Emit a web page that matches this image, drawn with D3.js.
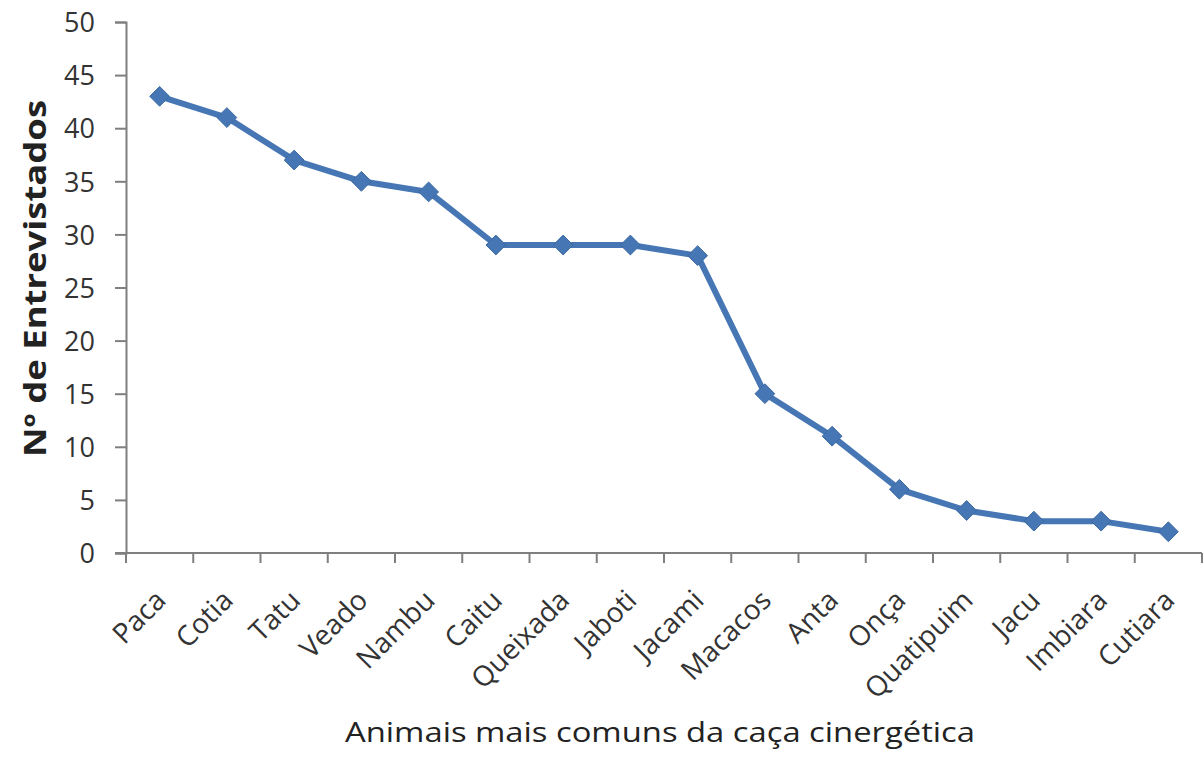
<!DOCTYPE html>
<html>
<head>
<meta charset="utf-8">
<script src="https://cdn.jsdelivr.net/npm/d3@7"></script>
<style>
  html, body { margin: 0; padding: 0; background: #fff; }
  svg { display: block; }
</style>
</head>
<body>
<svg id="chart" width="1204" height="758"></svg>
<script>
// Animals and number of interviewees citing each one
const animals = ["Paca", "Cotia", "Tatu", "Veado", "Nambu", "Caitu", "Queixada", "Jaboti",
                 "Jacami", "Macacos", "Anta", "Onça", "Quatipuim", "Jacu", "Imbiara", "Cutiara"];
const interviewees = [43, 41, 37, 35, 34, 29, 29, 29, 28, 15, 11, 6, 4, 3, 3, 2];
const yTicks = [0, 5, 10, 15, 20, 25, 30, 35, 40, 45, 50];

const svg = d3.select("#chart");
const plotLeft = 126, plotRight = 1202, plotTop = 22, plotBottom = 553;

const x = d3.scaleBand().domain(animals).range([plotLeft, plotRight]).padding(0);
const y = d3.scaleLinear().domain([0, 50]).range([plotBottom, plotTop]);

const axisColor = "#7f7f7f";
const textColor = "#333333";
const font = "'Open Sans', 'DejaVu Sans', sans-serif";

// Y axis
const yAxis = svg.append("g")
  .attr("transform", `translate(${plotLeft},0)`)
  .call(d3.axisLeft(y).tickValues(yTicks).tickSize(11).tickPadding(20).tickFormat(d3.format("d")));
yAxis.select(".domain").attr("stroke", axisColor).attr("stroke-width", 2);
yAxis.selectAll(".tick line").attr("stroke", axisColor).attr("stroke-width", 2);
yAxis.selectAll(".tick text")
  .attr("fill", textColor)
  .attr("dy", "0.36em")
  .style("font-family", font)
  .style("font-size", "27px");

// X axis: ticks on band boundaries
const xAxisG = svg.append("g");
xAxisG.append("line")
  .attr("x1", plotLeft - 11).attr("x2", plotRight)
  .attr("y1", plotBottom).attr("y2", plotBottom)
  .attr("stroke", axisColor).attr("stroke-width", 2);
const boundaries = animals.map(a => x(a)).concat([plotRight]);
xAxisG.selectAll("line.tick")
  .data(boundaries)
  .join("line")
  .attr("class", "tick")
  .attr("x1", d => d).attr("x2", d => d)
  .attr("y1", plotBottom).attr("y2", plotBottom + 10)
  .attr("stroke", axisColor).attr("stroke-width", 2);

// Category labels rotated 45°
xAxisG.selectAll("text.cat")
  .data(animals)
  .join("text")
  .attr("class", "cat")
  .attr("transform", d => `translate(${x(d) + x.bandwidth() / 2 + 8},${plotBottom + 49}) rotate(-45)`)
  .attr("text-anchor", "end")
  .attr("fill", textColor)
  .style("font-family", font)
  .style("font-size", "28px")
  .text(d => d);

// Line series
const data = animals.map((a, i) => ({ name: a, value: interviewees[i] }));
const lineColor = "#4677b4";
const line = d3.line()
  .x(d => x(d.name) + x.bandwidth() / 2)
  .y(d => y(d.value));

svg.append("path")
  .datum(data)
  .attr("d", line)
  .attr("fill", "none")
  .attr("stroke", lineColor)
  .attr("stroke-width", 6)
  .attr("stroke-linejoin", "round");

// Diamond markers
const diamond = d3.symbol().type(d3.symbolDiamond2).size(250);
svg.selectAll("path.marker")
  .data(data)
  .join("path")
  .attr("class", "marker")
  .attr("transform", d => `translate(${x(d.name) + x.bandwidth() / 2},${y(d.value)})`)
  .attr("d", diamond)
  .attr("fill", lineColor)
  .attr("stroke", "#3c6aa3")
  .attr("stroke-width", 1);

// Axis titles
svg.append("text")
  .attr("transform", `translate(46,${(100 + 457) / 2}) rotate(-90)`)
  .attr("text-anchor", "middle")
  .attr("fill", "#222")
  .attr("textLength", 357)
  .attr("lengthAdjust", "spacingAndGlyphs")
  .style("font-family", font)
  .style("font-weight", "bold")
  .style("font-size", "30px")
  .text("Nº de Entrevistados");

svg.append("text")
  .attr("x", 660)
  .attr("y", 742)
  .attr("text-anchor", "middle")
  .attr("fill", "#222")
  .attr("textLength", 630)
  .attr("lengthAdjust", "spacingAndGlyphs")
  .style("font-family", font)
  .style("font-size", "27px")
  .text("Animais mais comuns da caça cinergética");
</script>
</body>
</html>
